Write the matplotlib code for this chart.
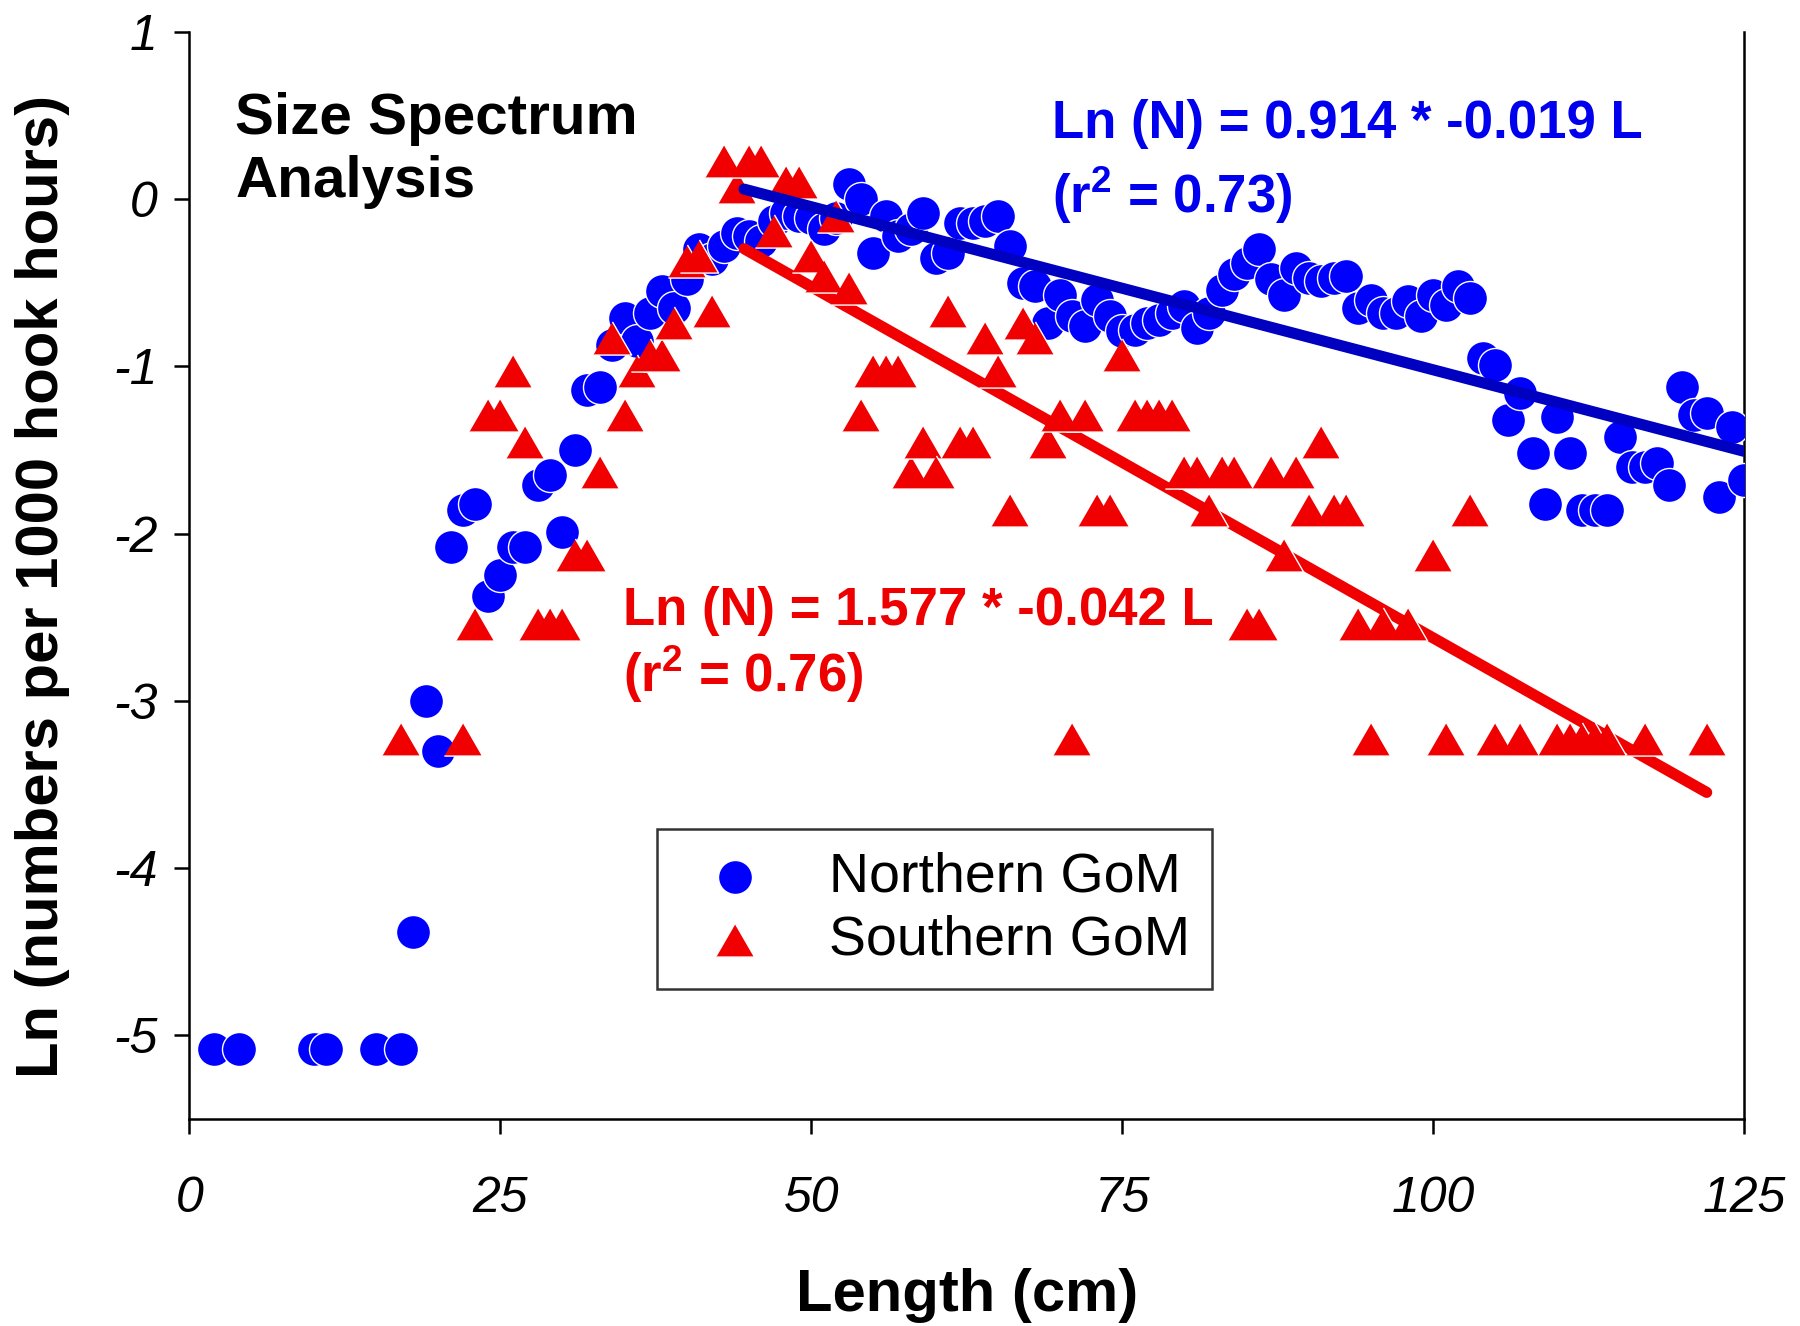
import matplotlib
matplotlib.use('Agg')
import matplotlib.pyplot as plt
import numpy as np

plt.rcParams['font.family'] = ['Liberation Sans', 'DejaVu Sans']
plt.rcParams['mathtext.fontset'] = 'custom'
plt.rcParams['mathtext.rm'] = 'Liberation Sans'
plt.rcParams['mathtext.bf'] = 'Liberation Sans:bold'

# Northern GoM: length (cm) and Ln(numbers per 1000 hook hours)
north_len = [2, 4, 10, 11, 15, 17, 18, 19, 20, 21, 22, 23, 24, 25, 26, 27, 28, 29, 30,
             31, 32, 33, 34, 35, 36, 37, 38, 39, 40, 41, 42, 43, 44, 45, 46, 47, 48, 49, 50,
             51, 52, 53, 54, 55, 56, 57, 58, 59, 60, 61, 62, 63, 64, 65, 66, 67, 68, 69, 70,
             71, 72, 73, 74, 75, 76, 77, 78, 79, 80, 81, 82, 83, 84, 85, 86, 87, 88, 89, 90,
             91, 92, 93, 94, 95, 96, 97, 98, 99, 100, 101, 102, 103, 104, 105, 106, 107, 108,
             109, 110, 111, 112, 113, 114, 115, 116, 117, 118, 119, 120, 121, 122, 123, 124, 125]
north_ln = [-5.08, -5.08, -5.08, -5.08, -5.08, -5.08, -4.38, -3.0, -3.3, -2.08, -1.86, -1.82,
            -2.37, -2.25, -2.08, -2.08, -1.71, -1.65, -1.99,
            -1.50, -1.14, -1.12, -0.87, -0.71, -0.85, -0.68, -0.55, -0.65, -0.48,
            -0.30, -0.36, -0.28, -0.20, -0.22, -0.25, -0.13, -0.08, -0.10, -0.11,
            -0.18, -0.11, 0.09, 0.0, -0.32, -0.10, -0.22, -0.18, -0.08, -0.35,
            -0.32, -0.14, -0.14, -0.13, -0.10, -0.28, -0.50, -0.52, -0.74, -0.57,
            -0.70, -0.76, -0.60, -0.70, -0.79, -0.78, -0.74, -0.72, -0.68, -0.64,
            -0.77, -0.68, -0.54, -0.45, -0.38, -0.30, -0.48, -0.57, -0.41, -0.47,
            -0.49, -0.47, -0.46, -0.65, -0.60, -0.68, -0.68, -0.61, -0.70, -0.57,
            -0.63, -0.52, -0.59, -0.95, -0.99, -1.32, -1.16, -1.52,
            -1.82, -1.30, -1.52, -1.86, -1.86, -1.86, -1.42, -1.60, -1.60, -1.58,
            -1.71, -1.12, -1.29, -1.28, -1.78, -1.36, -1.68]

# Southern GoM
south_len = [17, 22, 23, 24, 25, 26, 27, 28, 29, 30, 31, 32, 33, 34, 35, 36, 37, 38, 39, 40,
             41, 42, 43, 44, 45, 46, 47, 48, 49, 50, 51, 52, 53, 54, 55, 56, 57, 58, 59, 60,
             61, 62, 63, 64, 65, 66, 67, 68, 69, 70, 71, 72, 73, 74, 75, 76, 77, 78, 79, 80,
             81, 82, 83, 84, 85, 86, 87, 88, 89, 90, 91, 92, 93, 94, 95, 96, 98, 100, 101,
             103, 105, 107, 110, 111, 112, 113, 114, 117, 122]
south_ln = [-3.23, -3.23, -2.54, -1.29, -1.29, -1.03, -1.45, -2.54, -2.54, -2.54,
            -2.13, -2.13, -1.63, -0.83, -1.29, -1.03, -0.93, -0.93, -0.74, -0.37,
            -0.34, -0.67, 0.23, 0.07, 0.23, 0.23, -0.19, 0.10, 0.10, -0.34,
            -0.46, -0.10, -0.53, -1.29, -1.03, -1.03, -1.03, -1.63, -1.45, -1.63,
            -0.67, -1.45, -1.45, -0.83, -1.03, -1.86, -0.74, -0.83, -1.45, -1.29,
            -3.23, -1.29, -1.86, -1.86, -0.93, -1.29, -1.29, -1.29, -1.29, -1.63,
            -1.63, -1.86, -1.63, -1.63, -2.54, -2.54, -1.63, -2.13, -1.63, -1.86,
            -1.45, -1.86, -1.86, -2.54, -3.23, -2.54, -2.54, -2.13, -3.23,
            -1.86, -3.23, -3.23, -3.23, -3.23, -3.23, -3.23, -3.23, -3.23, -3.23]

# regression lines (intercept, slope) and fitted length ranges
north_fit = (0.93, -0.0195)
north_range = (44.6, 125)
south_fit = (1.577, -0.042)
south_range = (44.6, 122)

x_ticks = [0, 25, 50, 75, 100, 125]
y_ticks = [1, 0, -1, -2, -3, -4, -5]

BLUE = '#0000FF'
BLUE_LINE = '#0000C0'
RED = '#F00000'

fig = plt.figure(figsize=(18, 13.26), dpi=100)
ax = fig.add_axes([0.1052, 0.1561, 0.8637, 0.8198])

tri = [(-1, -0.866), (1, -0.866), (0, 0.866)]

ax.scatter(north_len, north_ln, s=600, marker='o', color=BLUE, edgecolors='white',
           linewidths=1.0, zorder=3, label='Northern GoM')

xs = np.array(south_range)
ax.plot(xs, south_fit[0] + south_fit[1] * xs, color=RED, lw=8,
        solid_capstyle='round', zorder=4)

ax.scatter(south_len, south_ln, s=760, marker=tri, color=RED, edgecolors='white',
           linewidths=1.0, zorder=5, label='Southern GoM')

xn = np.array(north_range)
ax.plot(xn, north_fit[0] + north_fit[1] * xn, color=BLUE_LINE, lw=8,
        solid_capstyle='round', zorder=6)

ax.set_xlim(0, 125)
ax.set_ylim(-5.5, 1)
ax.set_xticks(x_ticks)
ax.set_yticks(y_ticks)
ax.set_xticklabels([str(t) for t in x_ticks], fontstyle='italic', fontsize=36)
ax.set_yticklabels([str(t) for t in y_ticks], fontstyle='italic', fontsize=36)
ax.tick_params(axis='both', direction='out', length=11, width=1.8)
ax.tick_params(axis='x', pad=30)
ax.tick_params(axis='y', pad=12)
ax.spines['top'].set_visible(False)
for s in ['left', 'bottom', 'right']:
    ax.spines[s].set_linewidth(1.8)

ax.set_xlabel('Length (cm)', fontsize=43, fontweight='bold', va='center')
ax.xaxis.set_label_coords(0.5, -0.162)
ax.set_ylabel('Ln (numbers per 1000 hook hours)', fontsize=43, fontweight='bold', va='center')
ax.yaxis.set_label_coords(-0.0945, 0.49)

ax.text(0.0295, 0.945, 'Size Spectrum\nAnalysis', transform=ax.transAxes, fontsize=42,
        fontweight='bold', ha='left', va='top', linespacing=1.22)
ax.text(0.555, 0.938, 'Ln (N) = 0.914 * -0.019 L', transform=ax.transAxes,
        fontsize=38, fontweight='bold', color='#0000EE', ha='left', va='top')
ax.text(0.555, 0.878, r'(r$^{\mathbf{2}}$ = 0.73)', transform=ax.transAxes,
        fontsize=38, fontweight='bold', color='#0000EE', ha='left', va='top')
ax.text(0.279, 0.490, 'Ln (N) = 1.577 * -0.042 L', transform=ax.transAxes,
        fontsize=38, fontweight='bold', color='#EE0000', ha='left', va='top')
ax.text(0.279, 0.438, r'(r$^{\mathbf{2}}$ = 0.76)', transform=ax.transAxes,
        fontsize=38, fontweight='bold', color='#EE0000', ha='left', va='top')

leg = ax.legend(loc='upper left', bbox_to_anchor=(0.3008, 0.2668), borderaxespad=0,
                fontsize=40, frameon=True, fancybox=False, edgecolor='black',
                handlelength=2.0, handletextpad=0.7, borderpad=0.4, labelspacing=0.2,
                scatterpoints=1)
leg.get_frame().set_linewidth(1.8)

fig.savefig('out.png', dpi=100)
